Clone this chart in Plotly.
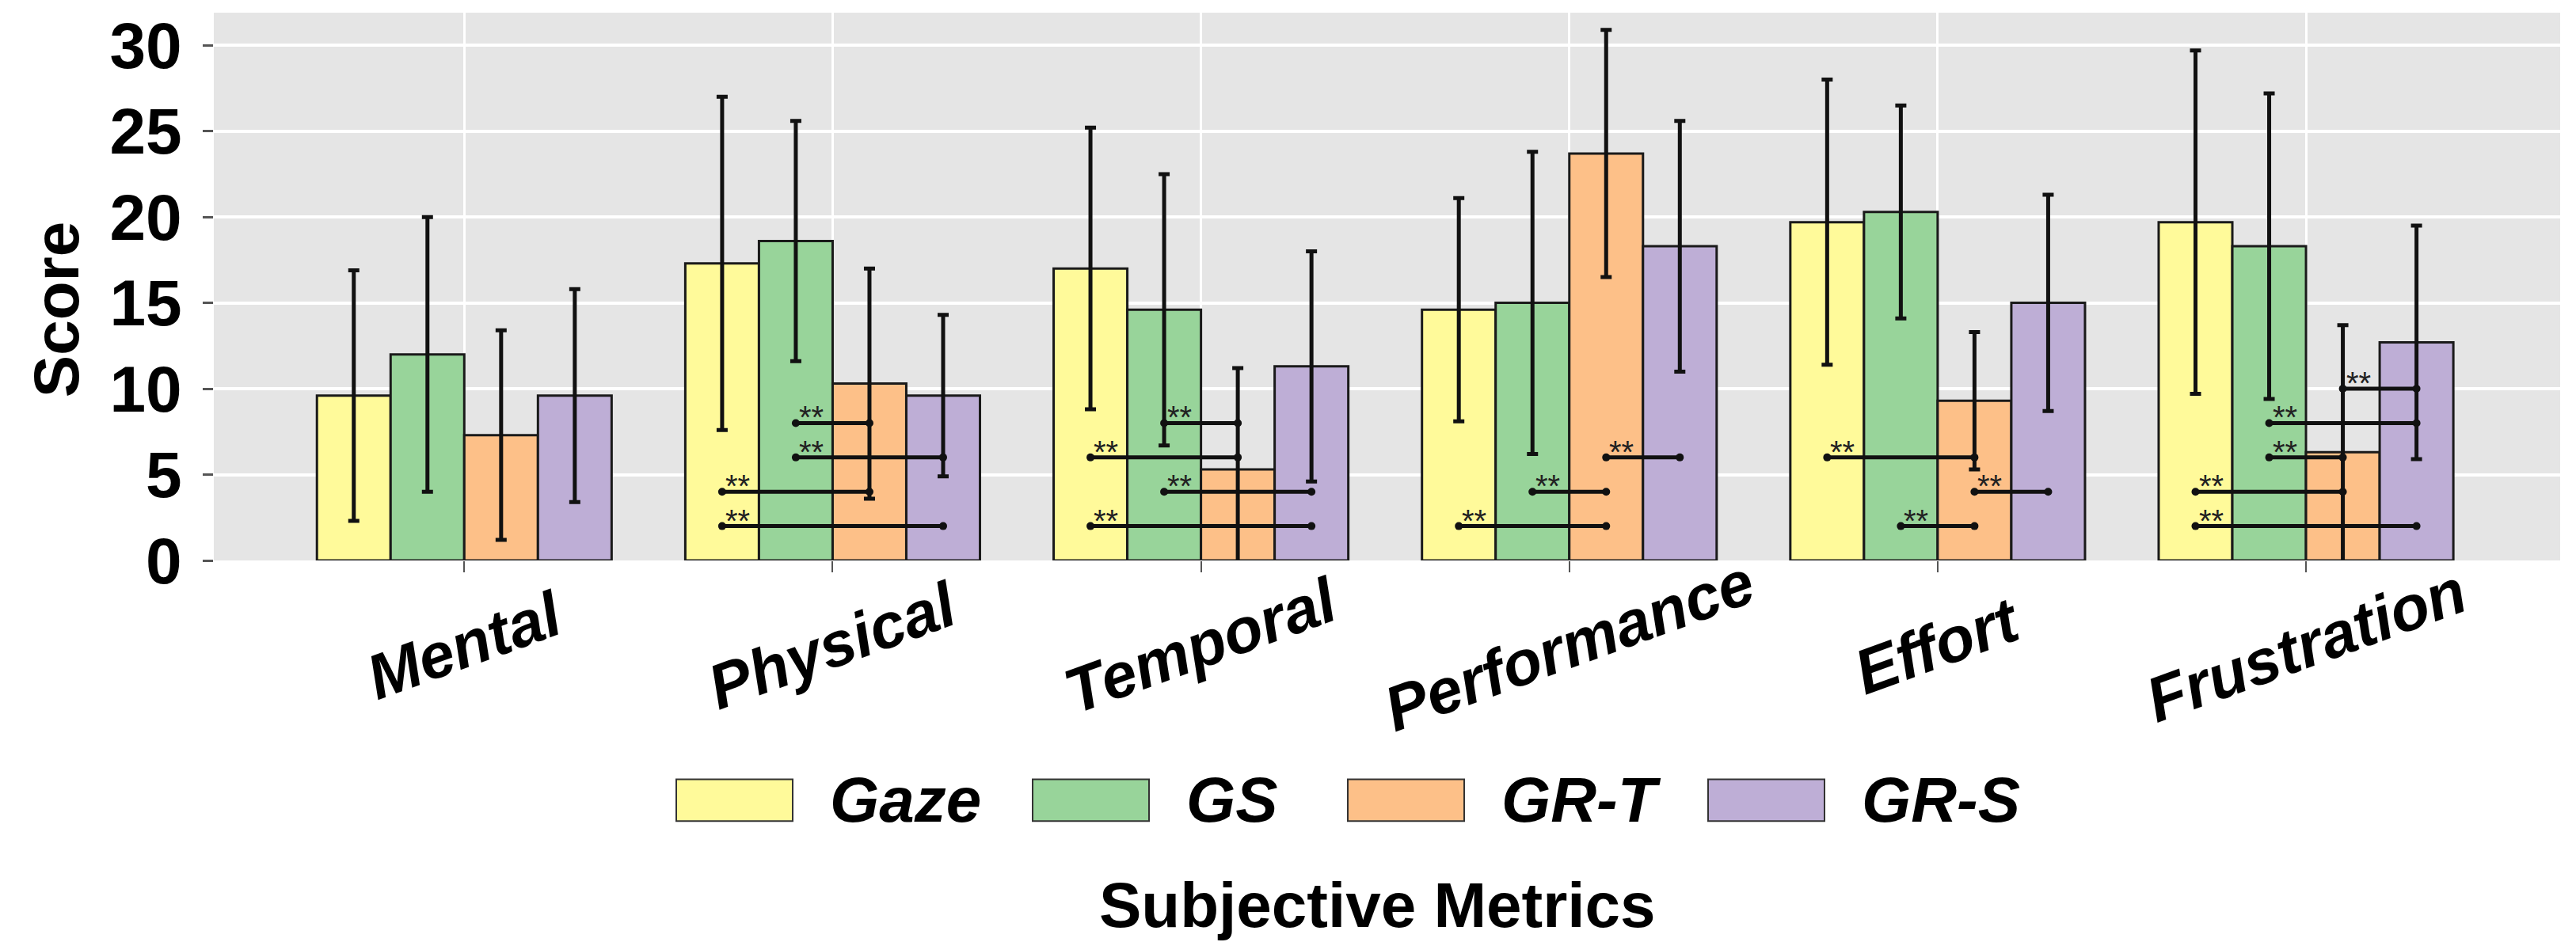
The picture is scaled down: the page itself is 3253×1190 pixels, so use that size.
import plotly.graph_objects as go

# ---------------- data ----------------
categories = ["Mental", "Physical", "Temporal", "Performance", "Effort", "Frustration"]
groups = ["Gaze", "GS", "GR-T", "GR-S"]

gaze_mean = [9.6, 17.3, 17.0, 14.6, 19.7, 19.7]
gaze_sd = [7.3, 9.7, 8.2, 6.5, 8.3, 10.0]
gs_mean = [12.0, 18.6, 14.6, 15.0, 20.3, 18.3]
gs_sd = [8.0, 7.0, 7.9, 8.8, 6.2, 8.9]
grt_mean = [7.3, 10.3, 5.3, 23.7, 9.3, 6.3]
grt_sd = [6.1, 6.7, 5.9, 7.2, 4.0, 7.4]
grs_mean = [9.6, 9.6, 11.3, 18.3, 15.0, 12.7]
grs_sd = [6.2, 4.7, 6.7, 7.3, 6.3, 6.8]

# significance brackets: category, from-group, to-group, level
sig_category = ["Physical", "Physical", "Physical", "Physical",
                "Temporal", "Temporal", "Temporal", "Temporal",
                "Performance", "Performance", "Performance",
                "Effort", "Effort", "Effort",
                "Frustration", "Frustration", "Frustration", "Frustration", "Frustration"]
sig_from = ["GS", "GS", "Gaze", "Gaze",
            "GS", "Gaze", "GS", "Gaze",
            "GR-T", "GS", "Gaze",
            "Gaze", "GR-T", "GS",
            "GR-T", "GS", "GS", "Gaze", "Gaze"]
sig_to = ["GR-T", "GR-S", "GR-T", "GR-S",
          "GR-T", "GR-T", "GR-S", "GR-S",
          "GR-S", "GR-T", "GR-T",
          "GR-T", "GR-S", "GR-T",
          "GR-S", "GR-S", "GR-T", "GR-T", "GR-S"]
sig_level = [8, 6, 4, 2,
             8, 6, 4, 2,
             6, 4, 2,
             6, 4, 2,
             10, 8, 6, 4, 2]
sig_label = "**"

y_ticks = [0, 5, 10, 15, 20, 25, 30]

# ---------------- styling ----------------
colors = ["#FFFA9A", "#98D49A", "#FDC088", "#BEAED6"]
FONT = "Liberation Sans"
means = [gaze_mean, gs_mean, grt_mean, grs_mean]
sds = [gaze_sd, gs_sd, grt_sd, grs_sd]

x_idx = list(range(len(categories)))
n_groups = len(groups)
group_width = 0.8
bar_w = group_width / n_groups
offset = {g: -group_width / 2 + bar_w * (i + 0.5) for i, g in enumerate(groups)}

fig = go.Figure()
for g, m, s, c in zip(groups, means, sds, colors):
    fig.add_trace(go.Bar(
        x=x_idx, y=m, name=g,
        marker=dict(color=c, line=dict(color="#1a1a1a", width=3)),
        error_y=dict(type="data", array=s, visible=True, color="#111111",
                     thickness=5, width=7),
        showlegend=False,
    ))

annotations = []
for cat, a, b, lev in zip(sig_category, sig_from, sig_to, sig_level):
    ci = categories.index(cat)
    xa = ci + offset[a]
    xb = ci + offset[b]
    fig.add_trace(go.Scatter(
        x=[xa, xb], y=[lev, lev], mode="lines+markers",
        line=dict(color="#111111", width=5),
        marker=dict(color="#111111", size=10),
        showlegend=False, hoverinfo="skip",
    ))
    annotations.append(dict(
        x=xa, y=lev, xref="x", yref="y", text=sig_label, showarrow=False,
        xanchor="left", yanchor="middle", xshift=2, yshift=7,
        font=dict(family=FONT, size=40, color="#222222"),
    ))

# category labels (rotated, centred under ticks)
for i, cat in enumerate(categories):
    annotations.append(dict(
        x=i, y=-0.155, xref="x", yref="paper", text=cat, showarrow=False,
        textangle=-20, xanchor="center", yanchor="middle",
        font=dict(family=FONT, size=80, weight="bold", style="italic", color="#000000"),
    ))

# axis titles
annotations.append(dict(
    x=-0.067, y=0.4585, xref="paper", yref="paper", text="Score", showarrow=False,
    textangle=-90, xanchor="center", yanchor="middle",
    font=dict(family=FONT, size=80, weight="bold", color="#000000"),
))
annotations.append(dict(
    x=0.4961, y=-0.630, xref="paper", yref="paper", text="Subjective Metrics",
    showarrow=False, xanchor="center", yanchor="middle",
    font=dict(family=FONT, size=80, weight="bold", color="#000000"),
))

# manual legend (large keys)
PL, PW, PT, PH = 270, 2963, 14.5, 693.5
def px_x(px):
    return (px - PL) / PW
def px_y(py):
    return (PT + PH - py) / PH

key_left = [854, 1304, 1702, 2157]
key_w = 147
key_top, key_bot = 985, 1038
shapes = []
for g, c, kl in zip(groups, colors, key_left):
    shapes.append(dict(
        type="rect", xref="paper", yref="paper",
        x0=px_x(kl), x1=px_x(kl + key_w), y0=px_y(key_bot), y1=px_y(key_top),
        fillcolor=c, line=dict(color="#333333", width=2),
    ))
    annotations.append(dict(
        x=px_x(kl + key_w + 45), y=px_y((key_top + key_bot) / 2),
        xref="paper", yref="paper", text=g, showarrow=False,
        xanchor="left", yanchor="middle",
        font=dict(family=FONT, size=80, weight="bold", style="italic", color="#000000"),
    ))

fig.update_layout(
    width=3253, height=1190,
    margin=dict(l=270, r=20, t=14, b=482),
    paper_bgcolor="#FFFFFF", plot_bgcolor="#E5E5E5",
    barmode="group", bargap=0.2, bargroupgap=0,
    annotations=annotations, shapes=shapes,
    showlegend=False,
)
fig.update_xaxes(
    range=[-0.68, 5.69], tickvals=x_idx, showticklabels=False,
    ticks="outside", ticklen=14, tickwidth=2, tickcolor="#555555",
    showgrid=True, gridcolor="#FFFFFF", gridwidth=3, zeroline=False,
    showline=False,
)
fig.update_yaxes(
    range=[0, 31.9], tickvals=y_ticks, ticks="outside", ticklen=13, tickwidth=3,
    tickcolor="#555555", ticklabelstandoff=10,
    tickfont=dict(family=FONT, size=82, weight="bold", color="#000000"),
    showgrid=True, gridcolor="#FFFFFF", gridwidth=4, zeroline=False, showline=False,
)

fig.write_html("out.html", config={"displayModeBar": False},
               post_script="document.body.style.margin='0';")
